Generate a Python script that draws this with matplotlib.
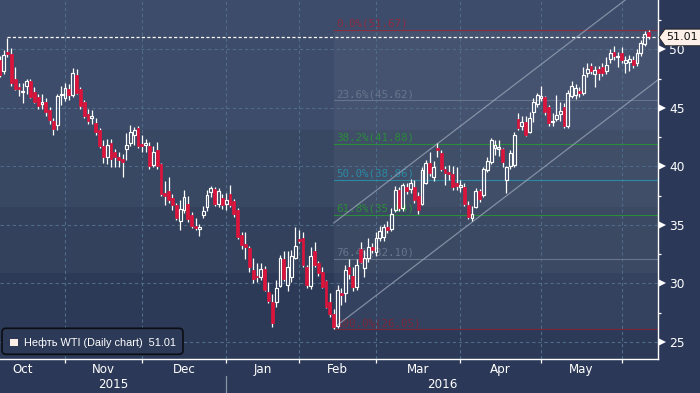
import numpy as np
import matplotlib
matplotlib.use('Agg')
import matplotlib.pyplot as plt
from matplotlib.patches import Rectangle, Polygon, FancyBboxPatch
from matplotlib.collections import LineCollection
import matplotlib.transforms as mtransforms

# ---------------- data ----------------
opens = [49.1, 48.1, 49.8, 49.6, 47.5, 46.75, 46.35, 46.9, 47.3, 46.35,
         45.95, 45.3, 45.5, 44.8, 43.9, 43.5, 46.05, 45.8, 46.6, 46.1,
         47.8, 46.6, 45.5, 44.5, 44.1, 43.7, 43.1, 41.7, 40.8, 41.95,
         41.2, 40.8, 40.6, 41.5, 42.0, 42.7, 43.3, 41.9, 41.85, 41.75,
         40.1, 41.4, 40.2, 37.7, 37.9, 37.3, 36.7, 35.35, 36.25, 36.8,
         35.8, 34.9, 34.6, 35.8, 36.5, 37.8, 38.05, 36.75, 37.3, 36.8,
         37.6, 37.0, 36.25, 34.1, 33.35, 33.0, 31.15, 30.6, 30.55, 31.2,
         29.25, 28.4, 28.4, 29.8, 32.05, 29.85, 30.55, 32.2, 33.8, 33.9,
         31.4, 29.75, 32.75, 31.7, 31.0, 30.15, 28.4, 27.4, 26.35, 29.15,
         29.15, 31.4, 30.65, 29.7, 32.9, 31.3, 32.2, 33.1, 32.7, 33.85,
         33.95, 34.8, 34.6, 36.25, 37.95, 36.4, 38.2, 38.05, 38.25, 37.45,
         36.8, 38.6, 40.25, 39.05, 41.6, 41.15, 39.75, 39.55, 39.35, 38.55,
         38.25, 38.25, 36.7, 35.55, 36.55, 37.85, 37.55, 39.7, 40.4, 41.6,
         41.5, 41.45, 38.8, 40.0, 40.1, 44.0, 43.4, 43.8, 42.95, 44.6,
         45.3, 45.85, 45.9, 45.05, 43.75, 44.05, 44.45, 45.1, 43.4, 46.0,
         46.1, 46.45, 46.3, 47.95, 48.55, 47.9, 48.3, 48.5, 48.1, 49.15,
         49.8, 49.3, 49.65, 48.85, 48.95, 49.1, 48.8, 49.65, 50.45, 51.45]
highs = [49.4, 49.9, 51.0, 50.1, 48.5, 47.1, 47.1, 47.5, 47.5, 46.8,
         46.2, 46.15, 45.8, 45.1, 44.1, 46.2, 46.9, 47.1, 47.0, 48.4,
         48.3, 46.8, 45.7, 44.9, 44.8, 44.1, 43.3, 42.25, 42.3, 42.3,
         41.5, 41.2, 41.05, 42.8, 43.5, 43.35, 43.4, 42.7, 42.3, 42.1,
         41.75, 42.1, 40.3, 38.7, 39.1, 37.6, 36.85, 37.1, 38.0, 37.5,
         36.1, 35.55, 35.1, 36.6, 38.0, 38.35, 38.2, 38.1, 37.6, 37.7,
         38.4, 37.2, 36.4, 34.35, 34.4, 33.2, 32.2, 31.7, 31.75, 31.45,
         30.1, 29.1, 30.3, 32.4, 32.75, 32.75, 32.85, 34.85, 34.55, 34.4,
         31.55, 33.1, 33.55, 31.9, 31.35, 30.3, 29.15, 27.8, 29.85, 29.6,
         31.55, 32.1, 31.4, 32.1, 33.55, 32.85, 33.85, 33.4, 34.4, 34.9,
         35.1, 35.3, 36.45, 38.3, 38.2, 38.6, 38.55, 38.95, 38.8, 37.8,
         39.95, 40.55, 41.25, 40.45, 41.95, 41.4, 40.0, 40.1, 40.0, 39.9,
         38.8, 38.6, 37.05, 36.6, 38.1, 38.05, 39.95, 40.8, 42.4, 42.25,
         42.25, 41.55, 40.05, 41.4, 42.95, 44.55, 44.3, 44.3, 44.6, 45.8,
         46.3, 46.85, 46.0, 45.2, 44.55, 46.1, 45.5, 45.4, 46.5, 47.25,
         47.0, 46.75, 48.5, 48.85, 48.8, 48.55, 48.6, 48.8, 49.35, 50.0,
         50.3, 49.75, 50.2, 49.45, 49.55, 49.4, 50.0, 50.8, 51.6, 51.67]
lows = [47.6, 47.9, 49.3, 46.9, 46.5, 46.0, 45.4, 46.2, 45.8, 45.4,
        44.9, 44.9, 44.3, 43.6, 42.7, 43.1, 45.2, 45.6, 45.7, 45.95,
        46.2, 44.9, 44.1, 43.6, 43.6, 42.7, 41.6, 40.3, 40.2, 39.9,
        39.9, 39.9, 39.1, 40.55, 41.7, 41.85, 41.6, 41.25, 41.25, 39.8,
        39.97, 39.8, 37.45, 36.7, 36.85, 36.3, 35.4, 34.55, 36.0, 35.2,
        34.7, 34.55, 34.0, 35.6, 36.2, 37.4, 36.6, 36.55, 36.35, 36.3,
        36.5, 35.7, 33.8, 32.9, 32.1, 31.0, 30.0, 30.1, 30.3, 29.3,
        28.3, 26.3, 28.0, 29.65, 30.2, 29.3, 30.1, 32.1, 33.4, 31.4,
        29.6, 29.5, 31.4, 30.65, 29.6, 27.85, 27.15, 26.05, 26.15, 28.15,
        28.4, 30.35, 29.3, 29.4, 31.7, 30.55, 31.85, 32.6, 32.35, 33.6,
        33.65, 34.3, 34.5, 36.05, 36.2, 36.2, 37.6, 37.7, 36.85, 35.95,
        36.7, 38.45, 39.2, 38.7, 40.8, 39.6, 38.4, 38.8, 37.95, 38.0,
        37.8, 36.6, 35.45, 35.35, 36.4, 36.95, 37.4, 39.55, 40.2, 40.95,
        40.9, 39.95, 37.7, 39.8, 39.95, 43.1, 43.1, 42.55, 42.8, 43.8,
        45.05, 45.6, 44.4, 43.4, 43.45, 43.9, 43.9, 43.25, 43.25, 45.8,
        45.75, 45.95, 46.1, 47.65, 47.85, 46.8, 47.4, 47.7, 47.85, 48.85,
        49.1, 48.5, 48.85, 47.95, 48.15, 48.4, 48.6, 49.4, 50.3, 50.9]
closes = [47.8, 49.5, 49.6, 47.1, 46.6, 46.6, 46.45, 47.3, 45.9, 45.5,
          45.15, 45.45, 44.6, 43.95, 43.2, 46.0, 46.15, 46.7, 46.1, 47.95,
          46.3, 45.15, 44.3, 43.9, 44.3, 42.95, 41.7, 40.8, 41.8, 40.6,
          40.8, 40.55, 40.4, 41.8, 42.9, 43.1, 41.7, 41.7, 41.95, 40.0,
          41.2, 40.0, 37.6, 37.45, 37.1, 36.7, 35.55, 36.35, 37.35, 35.45,
          34.9, 34.75, 34.85, 36.2, 37.55, 38.1, 36.8, 37.9, 36.65, 37.1,
          36.7, 35.9, 33.95, 33.3, 33.1, 31.4, 30.4, 30.5, 31.2, 29.45,
          28.5, 26.6, 29.6, 32.2, 30.35, 31.4, 32.3, 33.2, 33.6, 31.55,
          29.85, 32.3, 31.55, 30.85, 29.7, 28.0, 27.35, 26.3, 29.45, 29.0,
          31.15, 30.75, 29.65, 31.55, 31.85, 32.15, 33.1, 32.8, 33.85, 34.5,
          34.85, 34.55, 35.95, 37.95, 36.4, 38.4, 37.85, 38.6, 37.1, 36.25,
          39.7, 40.25, 39.45, 39.9, 41.4, 39.75, 39.45, 39.35, 38.25, 38.3,
          38.4, 36.8, 35.7, 35.9, 37.85, 37.2, 39.8, 40.45, 42.25, 41.8,
          41.6, 40.4, 39.9, 41.1, 42.65, 43.25, 43.8, 42.65, 44.1, 45.45,
          46.1, 46.0, 44.65, 43.7, 43.85, 44.4, 44.75, 43.4, 46.25, 46.85,
          46.7, 46.25, 47.8, 48.35, 48.1, 48.2, 48.0, 48.0, 48.65, 49.65,
          49.45, 49.45, 49.1, 49.1, 49.2, 48.65, 49.7, 50.5, 51.3, 51.01]

month_labels = ['Oct', 'Nov', 'Dec', 'Jan', 'Feb', 'Mar', 'Apr', 'May']
month_start_idx = [-5, 17, 37, 59, 78, 98, 120, 141, 162]   # first trading day of each month
year_labels = ['2015', '2016']
year_start_idx = [59]                                          # first day of 2016
yticks = [25, 30, 35, 40, 45, 50]
yticks_minor = [27.5, 32.5, 37.5, 42.5, 47.5, 52.5]
last_price = 51.01
price_line_start = 2
legend_text = 'Нефть WTI (Daily chart)  51.01'
fib_high, fib_low = 51.67, 26.05
fib_levels = [0.0, 0.236, 0.382, 0.5, 0.618, 0.764, 1.0]
fib_start_idx = 87
channel_start_idx = 87
channel_start_price = 26.18
channel_slope = 0.251          # price per trading day
channel_width = 8.97

# ---------------- style ----------------
W, H = 700, 393
BG_FIG = '#2b3858'
BANDS = [(0.638, 1.0, '#3d4c6a'), (0.424, 0.638, '#384762'),
         (0.240, 0.424, '#33415c'), (0.0, 0.240, '#2c3a58')]
GRID = '#4e6b88'
RED = '#dc143c'
FIB_COLORS = ['#8b2b40', '#67758c', '#2a8c3a', '#2b8aa3', '#2a8c3a', '#67758c', '#7a2638']

n = len(closes)
XMIN, XMAX = 0.07, 171.47
YMIN, YMAX = 23.50, 54.21

fig = plt.figure(figsize=(W / 100, H / 100), dpi=100, facecolor=BG_FIG)
ax = fig.add_axes([0, 33.7 / H, 658 / W, 359.3 / H])
ax.set_facecolor(BG_FIG)
ax.set_xlim(XMIN, XMAX)
ax.set_ylim(YMIN, YMAX)

for y0, y1, col in BANDS:
    ax.add_patch(Rectangle((0, y0), 1, y1 - y0, transform=ax.transAxes,
                           facecolor=col, edgecolor='none', zorder=0))

# fib shaded region
ax.add_patch(Rectangle((fib_start_idx, fib_low), XMAX - fib_start_idx, fib_high - fib_low,
                       facecolor='white', alpha=0.045, edgecolor='none', zorder=0.5))

# grid
for y in yticks:
    ax.axhline(y, color=GRID, lw=0.8, ls=(0, (3, 2.5)), zorder=1)
for xm in month_start_idx[1:]:
    ax.axvline(xm, color=GRID, lw=0.8, ls=(0, (3, 2.5)), zorder=1)

# fibonacci retracement
for lvl, col in zip(fib_levels, FIB_COLORS):
    price = fib_high - lvl * (fib_high - fib_low)
    ax.plot([fib_start_idx, XMAX], [price, price], color=col, lw=0.8, zorder=2)
    ax.text(fib_start_idx + 0.75, price + 0.12, f'{lvl * 100:.1f}%({price:.2f})',
            color=col, fontsize=7.8, family='DejaVu Sans Mono', va='bottom', ha='left', zorder=2)

# channel
xs = np.array([channel_start_idx, XMAX])
lower = channel_start_price + channel_slope * (xs - channel_start_idx)
ax.plot(xs, lower, color='#9aa5b8', lw=0.9, alpha=0.75, zorder=2.5)
ax.plot(xs, lower + channel_width, color='#9aa5b8', lw=0.9, alpha=0.75, zorder=2.5)

# candles
o = np.array(opens); h = np.array(highs); l = np.array(lows); c = np.array(closes)
top = np.maximum(o, c); bot = np.minimum(o, c)
segs = []
for i in range(n):
    segs.append([(i, top[i]), (i, h[i])])
    segs.append([(i, l[i]), (i, bot[i])])
ax.add_collection(LineCollection(segs, colors='white', linewidths=0.9, zorder=3))
bw = 0.74
for i in range(n):
    hh = max(top[i] - bot[i], 0.12)
    if c[i] >= o[i]:
        ax.add_patch(Rectangle((i - bw / 2, bot[i]), bw, hh, facecolor='none',
                               edgecolor='white', lw=0.85, zorder=4))
    else:
        ax.add_patch(Rectangle((i - bw / 2, bot[i]), bw, hh, facecolor=RED,
                               edgecolor=RED, lw=0.5, zorder=4))

# last price dashed line
ax.plot([price_line_start, XMAX], [last_price, last_price], color='white', lw=0.9,
        ls=(0, (2.5, 1.8)), zorder=5)

# spines / ticks
for s in ['top', 'left']:
    ax.spines[s].set_visible(False)
for s in ['bottom', 'right']:
    ax.spines[s].set_color('white')
    ax.spines[s].set_linewidth(1.0)
ax.set_xticks(month_start_idx[1:])
ax.set_xticklabels([])
ax.tick_params(axis='x', colors='white', length=2.6, width=0.9, direction='out')
ax.yaxis.tick_right()
ax.set_yticks(yticks)
ax.set_yticklabels([str(t) for t in yticks])
ax.set_yticks(yticks_minor, minor=True)
ax.tick_params(axis='y', which='major', length=0, pad=8, labelsize=8.8, labelcolor='white')
ax.tick_params(axis='y', which='minor', length=2.5, width=0.9, colors='white')

bt = mtransforms.blended_transform_factory(ax.transAxes, ax.transData)
ax.plot([1.0055] * len(yticks), yticks, marker='>', ls='none', ms=5.2, color='white',
        markeredgewidth=0, transform=bt, clip_on=False, zorder=6)

# month labels
xt = mtransforms.blended_transform_factory(ax.transData, ax.transAxes)
for k, lab in enumerate(month_labels):
    mid = (month_start_idx[k] + month_start_idx[k + 1]) / 2
    ax.text(mid, -10.3 / 359.3, lab, transform=xt, color='white', fontsize=8.6,
            ha='center', va='center', clip_on=False)
year_mids = [(XMIN + year_start_idx[0]) / 2, (year_start_idx[0] + XMAX) / 2]
for mid, lab in zip(year_mids, year_labels):
    ax.text(mid, -25.3 / 359.3, lab, transform=xt, color='white', fontsize=8.6,
            ha='center', va='center', clip_on=False)
ax.plot([year_start_idx[0]] * 2, [-17 / 359.3, -34 / 359.3], transform=xt,
        color='#8a93a3', lw=0.9, clip_on=False)

# last price label (pentagon)
hh = 8.3 / 11.696
pent = Polygon([(1.0015, last_price), (1.0106, last_price + hh), (1.08, last_price + hh),
                (1.08, last_price - hh), (1.0106, last_price - hh)], closed=True,
               transform=bt, facecolor='#fdf0e8', edgecolor='#1a1a1a', lw=0.6,
               clip_on=False, zorder=7)
ax.add_patch(pent)
ax.text(1.0125, last_price, f'{last_price:.2f}', transform=bt, color='#111111',
        fontsize=8.0, ha='left', va='center', clip_on=False, zorder=8)

# legend box
ident = mtransforms.IdentityTransform()
leg = FancyBboxPatch((2, H - 354.3), 181, 26, boxstyle='round,pad=0,rounding_size=4',
                     transform=ident, facecolor='#2c3a58', edgecolor='#0b0d12', lw=1.2,
                     zorder=10)
fig.add_artist(leg)
fig.add_artist(Rectangle((10, H - 346), 7.5, 7.5, transform=ident, facecolor='#fdeee6',
                         edgecolor='none', zorder=11))
fig.text(23.5 / W, (H - 342.3) / H, legend_text, color='white', fontsize=7.8,
         family=['Liberation Sans', 'DejaVu Sans'], ha='left', va='center', zorder=11)

fig.savefig('out.png', dpi=100, facecolor=fig.get_facecolor())
